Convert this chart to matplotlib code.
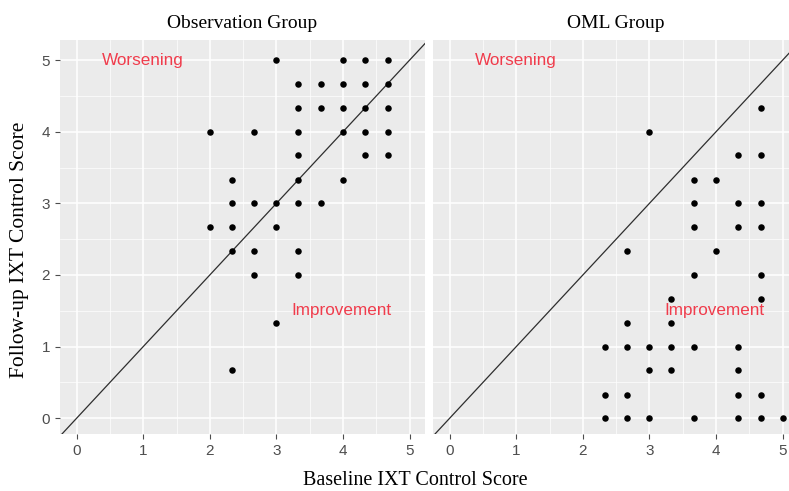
import matplotlib.pyplot as plt

# Observation group: baseline (x) vs follow-up (y)
obs_baseline = [3, 4, 4.33, 4.67,
                3.33, 3.67, 4, 4.33, 4.67,
                3.33, 3.67, 4, 4.33, 4.67,
                2, 2.67, 3.33, 4, 4.33, 4.67,
                3.33, 4.33, 4.67,
                2.33, 3.33, 4,
                2.33, 2.67, 3, 3.33, 3.67,
                2, 2.33, 3,
                2.33, 2.67, 3.33,
                2.67, 3.33,
                3,
                2.33]
obs_followup = [5, 5, 5, 5,
                4.67, 4.67, 4.67, 4.67, 4.67,
                4.33, 4.33, 4.33, 4.33, 4.33,
                4, 4, 4, 4, 4, 4,
                3.67, 3.67, 3.67,
                3.33, 3.33, 3.33,
                3, 3, 3, 3, 3,
                2.67, 2.67, 2.67,
                2.33, 2.33, 2.33,
                2, 2,
                1.33,
                0.67]

# OML group
oml_baseline = [4.67,
                3,
                4.33, 4.67,
                3.67, 4,
                3.67, 4.33, 4.67,
                3.67, 4.33, 4.67,
                2.67, 4,
                3.67, 4.67,
                3.33, 4.67,
                2.67, 3.33,
                2.33, 2.67, 3, 3.33, 3.67, 4.33,
                3, 3.33, 4.33,
                2.33, 2.67, 4.33, 4.67,
                2.33, 2.67, 3, 3.67, 4.33, 4.67, 5]
oml_followup = [4.33,
                4,
                3.67, 3.67,
                3.33, 3.33,
                3, 3, 3,
                2.67, 2.67, 2.67,
                2.33, 2.33,
                2, 2,
                1.67, 1.67,
                1.33, 1.33,
                1, 1, 1, 1, 1, 1,
                0.67, 0.67, 0.67,
                0.33, 0.33, 0.33, 0.33,
                0, 0, 0, 0, 0, 0, 0]

panel_titles = ["Observation Group", "OML Group"]
ticks = [0, 1, 2, 3, 4, 5]
minor_ticks = [0.5, 1.5, 2.5, 3.5, 4.5]

BG = '#EBEBEB'
TICK_COL = '#4D4D4D'
LABEL_RED = '#F03C4C'
serif = ['Liberation Serif', 'DejaVu Serif']
sans = ['Liberation Sans', 'DejaVu Sans']


def style_panel(ax, show_y):
    ax.set_facecolor(BG)
    ax.set_xticks(ticks)
    ax.set_yticks(ticks)
    ax.set_xticks(minor_ticks, minor=True)
    ax.set_yticks(minor_ticks, minor=True)
    ax.set_xlim(-0.25, 5.23)
    ax.set_ylim(-0.22, 5.28)
    ax.grid(True, which='major', color='white', linewidth=1.1)
    ax.grid(True, which='minor', color='white', linewidth=0.5)
    ax.set_axisbelow(True)
    for s in ax.spines.values():
        s.set_visible(False)
    ax.tick_params(which='major', length=3.5, pad=3.5, color=TICK_COL,
                   labelcolor=TICK_COL, labelsize=11, width=0.8)
    ax.tick_params(which='minor', length=0)
    for lab in ax.get_xticklabels() + ax.get_yticklabels():
        lab.set_family(sans)
    if not show_y:
        ax.tick_params(axis='y', which='major', length=0, labelleft=False)


fig = plt.figure(figsize=(7.89, 4.91), dpi=100)
ax1 = fig.add_axes([0.0760, 0.1161, 0.4626, 0.8024])
ax2 = fig.add_axes([0.5488, 0.1161, 0.4626, 0.8024])

for ax, title, xs, ys, show_y in [(ax1, panel_titles[0], obs_baseline, obs_followup, True),
                                   (ax2, panel_titles[1], oml_baseline, oml_followup, False)]:
    style_panel(ax, show_y)
    ax.axline((0, 0), slope=1, color='#2E2E2E', linewidth=0.9, zorder=2)
    ax.scatter(xs, ys, s=22, color='black', zorder=3, linewidths=0)
    ax.text(1.0, 5.0, "Worsening", color=LABEL_RED, fontsize=12.3, family=sans,
            ha='center', va='center')
    ax.text(3.97, 1.5, "Improvement", color=LABEL_RED, fontsize=12.3, family=sans,
            ha='center', va='center')
    ax.set_title(title, family=serif, fontsize=14, pad=9)

fig.text(0.527, 0.022, "Baseline IXT Control Score", family=serif, fontsize=14.5,
         ha='center', va='center')
fig.text(0.025, 0.491, "Follow-up IXT Control Score", family=serif, fontsize=15.5,
         ha='center', va='center', rotation=90)

fig.savefig('out.png', dpi=100)
